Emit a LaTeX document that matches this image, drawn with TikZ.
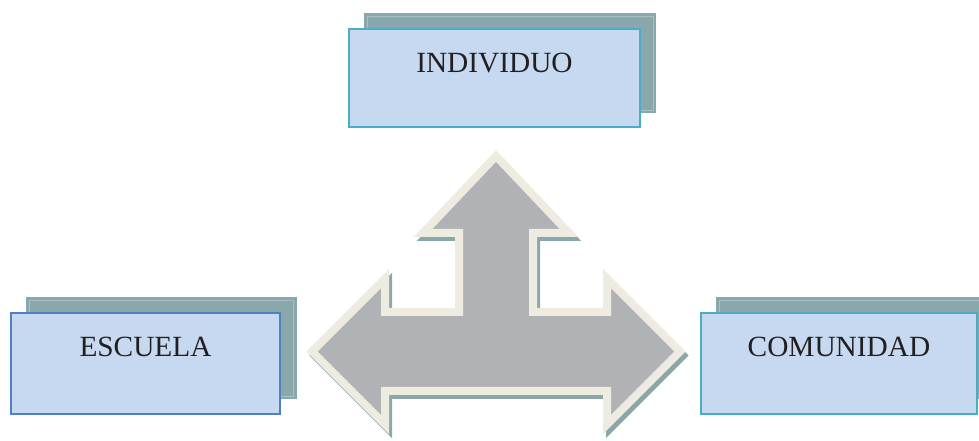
\documentclass[tikz,border=0pt]{standalone}
\usepackage{fontspec}
\setmainfont{Liberation Serif}
\definecolor{cajafondo}{HTML}{C6D9F1}
\definecolor{bordeturq}{HTML}{4BACC6}
\definecolor{bordeazul}{HTML}{4F81BD}
\definecolor{sombra}{HTML}{8AA8AC}
\definecolor{sombraclara}{HTML}{A9C0C3}
\definecolor{flechagris}{HTML}{B1B2B6}
\definecolor{crema}{HTML}{EEECE1}
\definecolor{texto}{HTML}{231F20}
\begin{document}
\begin{tikzpicture}[x=0.75pt, y=-0.75pt]
\tikzset{ inner sep=0pt, outer sep=0pt,
  caja/.style={draw=bordeturq, fill=cajafondo, line width=1.9pt, text=texto,
    font=\fontsize{22}{26}\selectfont, anchor=north west},
  sombracaja/.style={fill=sombra, anchor=north west},
}

\useasboundingbox (0,0) rectangle (979,441);
\clip (0,0) rectangle (979,441);

%\draw [lightgray, dashed](0,0) grid[step=50] (979,441);

% sombras de las cajas
\node [sombracaja, minimum width=219pt, minimum height=75pt] (sI) at (364,13) {};
\node [sombracaja, minimum width=203pt, minimum height=76.5pt] (sE) at (26,297) {};
\node [sombracaja, minimum width=210pt, minimum height=76.5pt] (sC) at (716,297) {};
\draw [sombraclara, line width=0.5pt] ([shift={(3,3)}]sI.north west) rectangle ([shift={(-3,-3)}]sI.south east);
\draw [sombraclara, line width=0.5pt] ([shift={(3,3)}]sE.north west) rectangle ([shift={(-3,-3)}]sE.south east);
\draw [sombraclara, line width=0.5pt] ([shift={(3,3)}]sC.north west) rectangle ([shift={(-3,-3)}]sC.south east);

% cajas
\node [caja, minimum width=218.25pt, text height=33pt, text depth=40.5pt] (I) at (349,29) {INDIVIDUO};
\node [caja, draw=bordeazul, minimum width=201.75pt, text height=33pt, text depth=42.75pt] (E) at (11,313) {ESCUELA};
\node [caja, minimum width=207pt, text height=33pt, text depth=42.75pt] (C) at (701,313) {COMUNIDAD};

% flecha de tres puntas
\begin{scope}[shift={(3,4)}]
\draw [fill=sombra, draw=sombra, line width=6pt]
  (496,156) -- (569,233) -- (533,233) -- (533,312) -- (607,312) -- (607,278.5)
  -- (680,351.5) -- (607,424.5) -- (607,391) -- (385,391) -- (385,424.5)
  -- (312,351.5) -- (385,278.5) -- (385,312) -- (459,312) -- (459,233)
  -- (423,233) -- cycle;
\end{scope}
\draw [fill=flechagris, draw=crema, line width=6pt]
  (496,156) -- (569,233) -- (533,233) -- (533,312) -- (607,312) -- (607,278.5)
  -- (680,351.5) -- (607,424.5) -- (607,391) -- (385,391) -- (385,424.5)
  -- (312,351.5) -- (385,278.5) -- (385,312) -- (459,312) -- (459,233)
  -- (423,233) -- cycle;

\end{tikzpicture}
\end{document}
